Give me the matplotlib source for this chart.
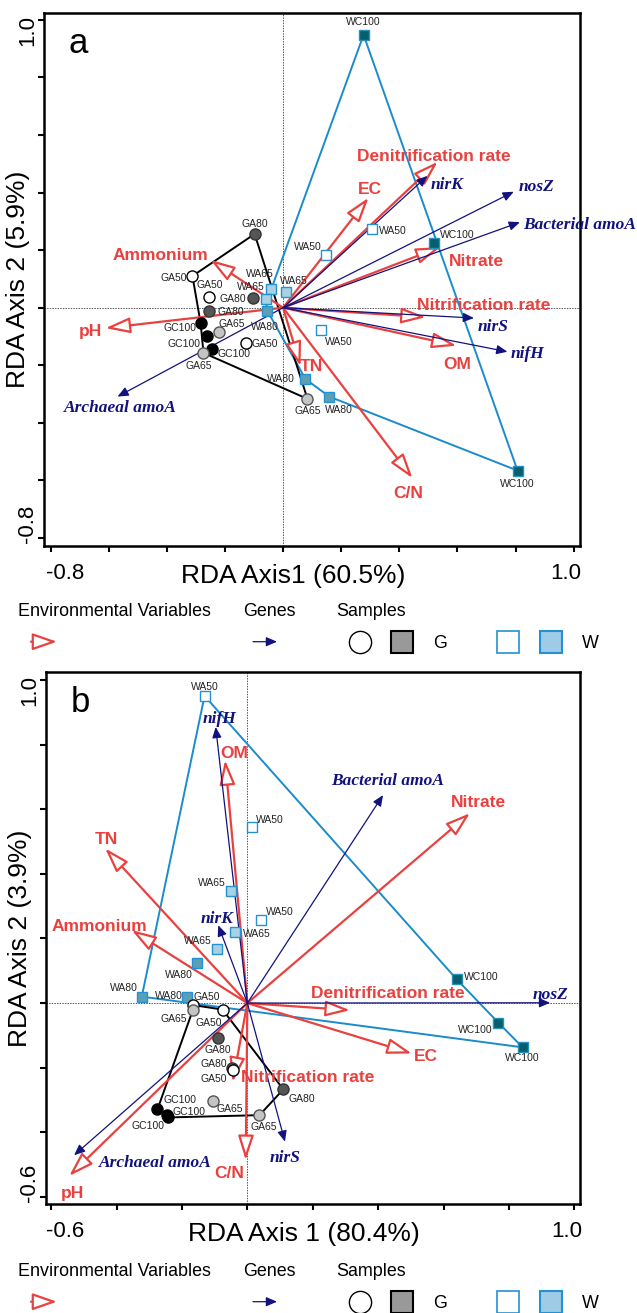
import numpy as np
import matplotlib
matplotlib.use("Agg")
import matplotlib.pyplot as plt

plt.rcParams['font.family'] = ['Liberation Sans', 'DejaVu Sans']

# ======================= DATA : panel a =======================
a_sample_names = ['WC100', 'WC100', 'WC100', 'WA50', 'WA50', 'WA50', 'WA65', 'WA65', 'WA65',
                  'WA80', 'WA80', 'WA80', 'GA80', 'GA50', 'GA50', 'GA80', 'GA80', 'GC100',
                  'GC100', 'GC100', 'GA65', 'GA65', 'GA50', 'GA65']
a_sample_x = [0.277, 0.519, 0.807, 0.146, 0.307, 0.129, -0.041, 0.009, -0.060,
              -0.054, 0.077, 0.159, -0.098, -0.312, -0.256, -0.105, -0.256, -0.284,
              -0.263, -0.246, -0.219, -0.274, -0.126, 0.084]
a_sample_y = [0.948, 0.224, -0.566, 0.183, 0.273, -0.077, 0.064, 0.054, 0.030,
              -0.011, -0.248, -0.309, 0.256, 0.110, 0.038, 0.034, -0.011, -0.053,
              -0.098, -0.143, -0.084, -0.157, -0.122, -0.317]
a_w_hull = [0, 6, 8, 9, 10, 11, 2]
a_g_hull = [12, 13, 17, 21, 23]

a_env_names = ['Denitrification rate', 'EC', 'Nitrate', 'Nitrification rate', 'OM',
               'TN', 'C/N', 'Ammonium', 'pH']
a_env_x = [0.532, 0.294, 0.542, 0.491, 0.597, 0.060, 0.445, -0.250, -0.611]
a_env_y = [0.507, 0.382, 0.211, -0.033, -0.132, -0.203, -0.592, 0.166, -0.071]

a_gene_names = ['nirK', 'nosZ', 'Bacterial amoA', 'nirS', 'nifH', 'Archaeal amoA']
a_gene_x = [0.497, 0.794, 0.815, 0.657, 0.772, -0.570]
a_gene_y = [0.458, 0.403, 0.297, -0.036, -0.153, -0.309]

# ======================= DATA : panel b =======================
b_sample_names = ['WA50', 'WA50', 'WA65', 'WA50', 'WA65', 'WA65', 'WA80', 'WA80', 'WA80',
                  'WC100', 'WC100', 'WC100', 'GA50', 'GA65', 'GA50', 'GA80', 'GA80', 'GA50',
                  'GC100', 'GC100', 'GC100', 'GA65', 'GA65', 'GA80']
b_sample_x = [-0.131, 0.013, -0.050, 0.042, -0.038, -0.094, -0.155, -0.323, -0.185,
              0.640, 0.768, 0.842, -0.167, -0.167, -0.076, -0.089, -0.048, -0.045,
              -0.275, -0.246, -0.242, -0.106, 0.037, 0.110]
b_sample_y = [0.951, 0.546, 0.348, 0.257, 0.221, 0.167, 0.123, 0.020, 0.020,
              0.074, -0.061, -0.137, -0.006, -0.022, -0.020, -0.109, -0.202, -0.207,
              -0.329, -0.347, -0.354, -0.304, -0.347, -0.267]
b_w_hull = [0, 9, 10, 11, 7]
b_g_hull = [12, 14, 23, 22, 20, 18, 13]

b_env_names = ['OM', 'TN', 'Nitrate', 'Ammonium', 'Denitrification rate', 'EC',
               'Nitrification rate', 'C/N', 'pH']
b_env_x = [-0.068, -0.435, 0.681, -0.354, 0.314, 0.503, -0.045, -0.005, -0.545]
b_env_y = [0.752, 0.479, 0.588, 0.226, -0.022, -0.156, -0.244, -0.486, -0.535]

b_gene_names = ['nifH', 'Bacterial amoA', 'nirK', 'nosZ', 'nirS', 'Archaeal amoA']
b_gene_x = [-0.097, 0.415, -0.089, 0.926, 0.115, -0.530]
b_gene_y = [0.855, 0.644, 0.241, 0.001, -0.429, -0.471]

# tick labels / titles
a_xtick_labels = ['-0.8', '1.0']
a_ytick_labels = ['1.0', '-0.8']
b_xtick_labels = ['-0.6', '1.0']
b_ytick_labels = ['1.0', '-0.6']
legend_titles = ['Environmental Variables', 'Genes', 'Samples']
legend_groups = ['G', 'W']

# ======================= LAYOUT (positions only) =======================
a_env_label_xy = [(0.520, 0.527), (0.297, 0.412), (0.664, 0.160), (0.691, 0.006),
                  (0.600, -0.199), (0.097, -0.205), (0.432, -0.644), (-0.423, 0.183),
                  (-0.664, -0.083)]
a_gene_label_xy = [(0.563, 0.427), (0.872, 0.421), (1.020, 0.288), (0.723, -0.066),
                   (0.841, -0.161), (-0.559, -0.348)]
b_env_label_xy = [(-0.041, 0.774), (-0.430, 0.505), (0.706, 0.622), (-0.452, 0.236),
                  (0.431, 0.030), (0.547, -0.166), (0.186, -0.229), (-0.056, -0.527),
                  (-0.535, -0.588)]
b_gene_label_xy = [(-0.085, 0.879), (0.430, 0.687), (-0.093, 0.259), (0.928, 0.025),
                   (0.115, -0.481), (-0.282, -0.495)]
# sample label offsets in pixels (dx right, dy down)
a_lab_off = [(0, -13), (23, -8), (0, 13), (-18, -8), (21, 2), (18, 12), (-11, -15), (8, -11),
             (-15, -12), (-3, 16), (-25, 0), (10, 13), (0, -10), (-19, 2), (1, -12), (-20, 1),
             (22, 1), (-21, 5), (-23, 8), (22, 5), (12, -8), (-5, 13), (18, 1), (0, 12)]
b_lab_off = [(0, -9), (18, -7), (-19, -8), (19, -8), (22, 2), (-19, -8), (-18, 12), (-18, -9),
             (-18, -1), (25, -2), (-23, 7), (0, 11), (14, -8), (-19, 9), (-14, 13), (0, 12),
             (-18, -4), (-19, 9), (23, -9), (22, -3), (-20, 9), (17, 8), (4, 12), (18, 10)]

RED = '#e8413f'
NAVY = '#12127e'
BLUE = '#1a8ccc'
SQ_EDGE = '#2391d2'
STYLE = {
    'WA50': dict(marker='s', mfc='white', mec=SQ_EDGE, ms=7.2),
    'WA65': dict(marker='s', mfc='#a9d1e2', mec=SQ_EDGE, ms=7.2),
    'WA80': dict(marker='s', mfc='#5a9fb6', mec=SQ_EDGE, ms=7.2),
    'WC100': dict(marker='s', mfc='#04606e', mec='#2a8fb8', ms=7.2),
    'GA50': dict(marker='o', mfc='white', mec='black', ms=8),
    'GA65': dict(marker='o', mfc='#c4c4c4', mec='#555555', ms=8),
    'GA80': dict(marker='o', mfc='#555555', mec='#333333', ms=8),
    'GC100': dict(marker='o', mfc='black', mec='black', ms=8),
}

DPI = 100
PX = 72.0 / DPI  # points per pixel

fig = plt.figure(figsize=(6.37, 13.13), dpi=DPI)
FW, FH = 637.0, 1313.0


def add_axes_px(l, t, r, b):
    return fig.add_axes([l / FW, 1 - b / FH, (r - l) / FW, (b - t) / FH])


ENV_STYLE = dict(arrowstyle='-|>,head_length=0.75,head_width=0.24', mutation_scale=20,
                 lw=1.6, ec=RED, fc='white', shrinkA=0, shrinkB=0)
GENE_STYLE = dict(arrowstyle='-|>,head_length=0.65,head_width=0.28', mutation_scale=10,
                  lw=0.9, ec=NAVY, fc=NAVY, shrinkA=0, shrinkB=0)


def draw_panel(ax, names, sx, sy, w_hull, g_hull, env_names, ex, ey, env_lab,
               gene_names, gx, gy, gene_lab, lab_off, xlim, ylim, xticks, yticks,
               xtl, ytl, xlabel, ylabel, letter, xlabel_x):
    ax.set_xlim(*xlim)
    ax.set_ylim(*ylim)
    for s in ax.spines.values():
        s.set_linewidth(1.8)
    ax.set_xticks(xticks)
    ax.set_yticks(yticks)
    ax.tick_params(direction='out', length=4, width=1.5, labelbottom=False, labelleft=False)
    ax.axhline(0, color='#555555', lw=0.7, ls=(0, (1.5, 1.2)), zorder=1)
    ax.axvline(0, color='#555555', lw=0.7, ls=(0, (1.5, 1.2)), zorder=1)

    sx = np.asarray(sx); sy = np.asarray(sy)
    wh = list(w_hull) + [w_hull[0]]
    gh = list(g_hull) + [g_hull[0]]
    ax.plot(sx[wh], sy[wh], color=BLUE, lw=1.4, zorder=2)
    ax.plot(sx[gh], sy[gh], color='black', lw=1.4, zorder=2)

    for n, x, y, (lx, ly) in zip(env_names, ex, ey, env_lab):
        ax.annotate('', xy=(x, y), xytext=(0, 0), arrowprops=ENV_STYLE, zorder=3)
        ax.text(lx, ly, n, color=RED, fontsize=12.5, fontweight='bold',
                ha='center', va='center', zorder=6)
    for n, x, y, (lx, ly) in zip(gene_names, gx, gy, gene_lab):
        ax.annotate('', xy=(x, y), xytext=(0, 0), arrowprops=GENE_STYLE, zorder=3.5)
        ax.text(lx, ly, n, color=NAVY, fontsize=12.5, fontweight='bold', style='italic',
                family=['Liberation Serif', 'DejaVu Serif'], ha='center', va='center',
                zorder=6, clip_on=False)

    for n, x, y, (dx, dy) in zip(names, sx, sy, lab_off):
        st = STYLE[n]
        ax.plot([x], [y], ls='none', marker=st['marker'], ms=st['ms'], mfc=st['mfc'],
                mec=st['mec'], mew=1.0, zorder=4)
        ax.annotate(n, xy=(x, y), xytext=(dx * PX, -dy * PX), textcoords='offset points',
                    fontsize=7.5, color='#222222', ha='center', va='center', zorder=5)

    # tick labels (end ticks only, kept inside the axis extent)
    ax.annotate(xtl[0], xy=(xticks[0], 0), xycoords=('data', 'axes fraction'),
                xytext=(-5 * PX, -33 * PX), textcoords='offset points',
                ha='left', va='baseline', fontsize=16)
    ax.annotate(xtl[1], xy=(xticks[-1], 0), xycoords=('data', 'axes fraction'),
                xytext=(8 * PX, -33 * PX), textcoords='offset points',
                ha='right', va='baseline', fontsize=16)
    ax.annotate(ytl[0], xy=(0, yticks[-1]), xycoords=('axes fraction', 'data'),
                xytext=(-6 * PX, 5 * PX), textcoords='offset points',
                ha='right', va='top', rotation=90, fontsize=16)
    ax.annotate(ytl[1], xy=(0, yticks[0]), xycoords=('axes fraction', 'data'),
                xytext=(-6 * PX, -5 * PX), textcoords='offset points',
                ha='right', va='bottom', rotation=90, fontsize=16)
    ax.annotate(xlabel, xy=(xlabel_x, 0), xycoords='axes fraction',
                xytext=(0, -37 * PX), textcoords='offset points',
                ha='center', va='baseline', fontsize=19)
    ax.annotate(ylabel, xy=(0, 0.5), xycoords='axes fraction',
                xytext=(-26 * PX, 0), textcoords='offset points',
                ha='center', va='center', rotation=90, fontsize=19)
    ax.text(0.064, 0.942, letter, transform=ax.transAxes, fontsize=25,
            ha='center', va='center')


# ---------------- panel a ----------------
axa = add_axes_px(44, 12.7, 580, 545.7)
draw_panel(axa, a_sample_names, a_sample_x, a_sample_y, a_w_hull, a_g_hull,
           a_env_names, a_env_x, a_env_y, a_env_label_xy,
           a_gene_names, a_gene_x, a_gene_y, a_gene_label_xy, a_lab_off,
           (-0.823, 1.022), (-0.827, 1.025),
           np.round(np.arange(-0.8, 1.01, 0.2), 2), np.round(np.arange(-0.8, 1.01, 0.2), 2),
           a_xtick_labels, a_ytick_labels, 'RDA Axis1 (60.5%)', 'RDA Axis 2 (5.9%)', 'a',
           (293.5 - 44) / 536)

# ---------------- panel b ----------------
axb = add_axes_px(46, 671.7, 580, 1204)
draw_panel(axb, b_sample_names, b_sample_x, b_sample_y, b_w_hull, b_g_hull,
           b_env_names, b_env_x, b_env_y, b_env_label_xy,
           b_gene_names, b_gene_x, b_gene_y, b_gene_label_xy, b_lab_off,
           (-0.616, 1.0175), (-0.622, 1.026),
           np.round(np.arange(-0.6, 1.01, 0.2), 2), np.round(np.arange(-0.6, 1.01, 0.2), 2),
           b_xtick_labels, b_ytick_labels, 'RDA Axis 1 (80.4%)', 'RDA Axis 2 (3.9%)', 'b',
           (304 - 46) / 534)

# ---------------- legends (overlay in pixel coords) ----------------
lax = fig.add_axes([0, 0, 1, 1], zorder=-1)
lax.set_xlim(0, FW)
lax.set_ylim(FH, 0)
lax.set_axis_off()


def legend(y_text, y_sym):
    for t, x in zip(legend_titles, [18, 243, 336]):
        lax.text(x, y_text, t, fontsize=12.9, ha='left', va='baseline')
    lax.annotate('', xy=(57, y_sym), xytext=(31, y_sym),
                 arrowprops=dict(arrowstyle='-|>,head_length=0.75,head_width=0.26',
                                 mutation_scale=20, lw=1.6, ec=RED, fc='white',
                                 shrinkA=0, shrinkB=0))
    lax.annotate('', xy=(277, y_sym), xytext=(253, y_sym), arrowprops=GENE_STYLE)
    lax.plot([360], [y_sym], marker='o', ms=16, mfc='white', mec='black', mew=1.0, ls='none')
    lax.plot([402], [y_sym], marker='s', ms=15.5, mfc='#999999', mec='black', mew=1.5, ls='none')
    lax.text(440, y_sym + 6, legend_groups[0], fontsize=12.9, ha='center', va='baseline')
    lax.plot([508], [y_sym], marker='s', ms=15.5, mfc='white', mec=SQ_EDGE, mew=1.2, ls='none')
    lax.plot([551], [y_sym], marker='s', ms=15.5, mfc='#9ecbe5', mec=SQ_EDGE, mew=1.5, ls='none')
    lax.text(590, y_sym + 6, legend_groups[1], fontsize=12.9, ha='center', va='baseline')


legend(616, 641.7)
legend(1276, 1301.7)

fig.savefig('out.png', dpi=DPI)
